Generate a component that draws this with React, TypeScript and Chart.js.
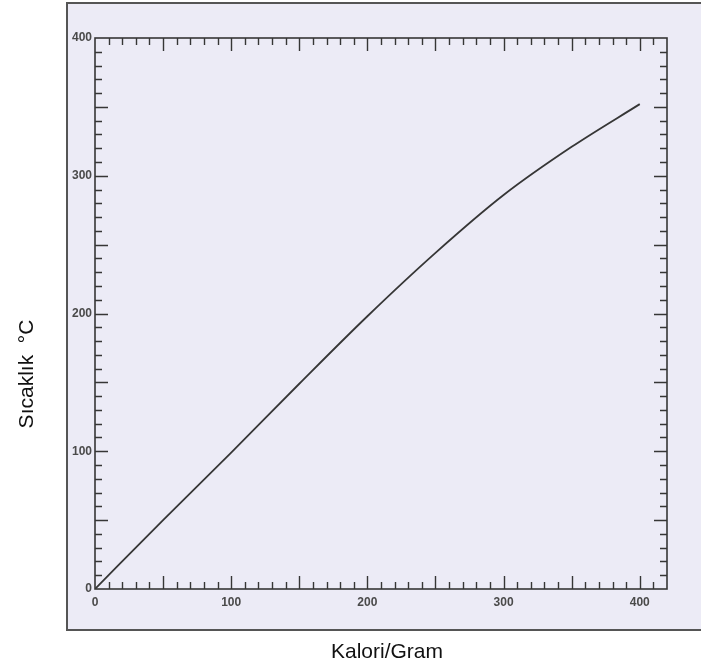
import { useEffect, useRef } from 'react';
import { Chart, registerables } from 'chart.js';

Chart.register(...registerables);

// ---- data ----
const calories = [0, 50, 100, 150, 200, 250, 300, 350, 400];
const temperatures = [0, 50, 99, 149, 198, 244, 286, 321, 352];
const xTickLabels = [0, 100, 200, 300, 400];
const yTickLabels = [0, 100, 200, 300, 400];
const xTitle = 'Kalori/Gram';
const yTitle = 'Sıcaklık  °C';

const X_MAX = 420;
const Y_MAX = 400;
const MINOR_STEP = 10;
const MAJOR_STEP = 50;

const INK = '#363636';
const PAPER = '#ecebf6';

const framePlugin = {
  id: 'scanFrame',
  beforeDraw(chart: any) {
    const ctx = chart.ctx;
    const W = chart.width;
    const H = chart.height;
    ctx.save();
    ctx.fillStyle = '#ffffff';
    ctx.fillRect(0, 0, W, H);
    ctx.fillStyle = PAPER;
    ctx.fillRect(67, 3, W - 67, 627);
    ctx.strokeStyle = '#555555';
    ctx.lineWidth = 2;
    ctx.beginPath();
    ctx.moveTo(W, 3);
    ctx.lineTo(67, 3);
    ctx.lineTo(67, 630);
    ctx.lineTo(W, 630);
    ctx.stroke();
    ctx.restore();
  },
  afterDraw(chart: any) {
    const ctx = chart.ctx;
    const a = chart.chartArea;
    const xs = chart.scales.x;
    const ys = chart.scales.y;
    ctx.save();
    ctx.strokeStyle = INK;
    ctx.lineWidth = 1.6;
    ctx.strokeRect(a.left, a.top, a.right - a.left, a.bottom - a.top);
    ctx.lineWidth = 1.4;
    ctx.beginPath();
    for (let v = MINOR_STEP; v < X_MAX; v += MINOR_STEP) {
      const len = v % MAJOR_STEP === 0 ? 13 : 7;
      const px = Math.round(xs.getPixelForValue(v)) + 0.5;
      ctx.moveTo(px, a.bottom);
      ctx.lineTo(px, a.bottom - len);
      ctx.moveTo(px, a.top);
      ctx.lineTo(px, a.top + len);
    }
    for (let v = MINOR_STEP; v < Y_MAX; v += MINOR_STEP) {
      const len = v % MAJOR_STEP === 0 ? 13 : 7;
      const py = Math.round(ys.getPixelForValue(v)) + 0.5;
      ctx.moveTo(a.left, py);
      ctx.lineTo(a.left + len, py);
      ctx.moveTo(a.right, py);
      ctx.lineTo(a.right - len, py);
    }
    ctx.stroke();

    // axis titles
    ctx.fillStyle = '#111111';
    ctx.font = '21px "Liberation Sans", Arial, sans-serif';
    ctx.textAlign = 'center';
    ctx.textBaseline = 'alphabetic';
    ctx.fillText(xTitle, 387, 658);
    ctx.translate(33, 374);
    ctx.rotate(-Math.PI / 2);
    ctx.fillText(yTitle, 0, 0);
    ctx.restore();
  },
};

export default function App() {
  const ref = useRef<HTMLCanvasElement | null>(null);

  useEffect(() => {
    if (!ref.current) return;
    const points = calories.map((c, i) => ({ x: c, y: temperatures[i] }));
    const tickFont = { family: '"Liberation Sans", Arial, sans-serif', size: 12, weight: 'bold' as const };
    const chart = new Chart(ref.current, {
      type: 'line',
      data: {
        datasets: [
          {
            data: points,
            borderColor: INK,
            borderWidth: 1.8,
            pointRadius: 0,
            cubicInterpolationMode: 'monotone',
            fill: false,
          },
        ],
      },
      options: {
        animation: false,
        responsive: false,
        layout: { padding: { left: 67, top: 38, right: 34, bottom: 55 } },
        plugins: { legend: { display: false }, tooltip: { enabled: false } },
        scales: {
          x: {
            type: 'linear',
            min: 0,
            max: X_MAX,
            grid: { display: false, drawTicks: false, tickLength: 0 },
            border: { display: false },
            afterBuildTicks: (s: any) => {
              s.ticks = xTickLabels.map((v) => ({ value: v }));
            },
            afterFit: (s: any) => {
              s.height = 20;
            },
            ticks: { color: '#4a4a4a', font: tickFont, padding: 6, maxRotation: 0 },
          },
          y: {
            type: 'linear',
            min: 0,
            max: Y_MAX,
            grid: { display: false, drawTicks: false, tickLength: 0 },
            border: { display: false },
            afterBuildTicks: (s: any) => {
              s.ticks = yTickLabels.map((v) => ({ value: v }));
            },
            afterFit: (s: any) => {
              s.width = 28;
            },
            ticks: { color: '#4a4a4a', font: tickFont, padding: 3 },
          },
        },
      },
      plugins: [framePlugin],
    });
    return () => chart.destroy();
  }, []);

  return (
    <div style={{ position: 'absolute', left: 0, top: 0, width: 701, height: 664 }}>
      <canvas ref={ref} width={701} height={664} style={{ width: 701, height: 664, display: 'block' }} />
    </div>
  );
}
